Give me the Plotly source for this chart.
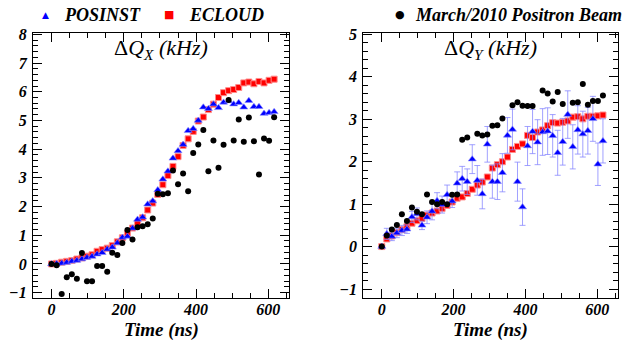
import plotly.graph_objects as go

# Bunch times along the train (ns)
time_ns = [0, 14, 28, 42, 56, 70, 84, 98, 112, 126, 140, 154, 168, 182, 196,
           210, 224, 238, 252, 266, 280, 294, 308, 322, 336, 350, 364, 378,
           392, 406, 420, 434, 448, 462, 476, 490, 504, 518, 532, 546, 560,
           574, 588, 602, 616]

# Horizontal tune shift dQx (kHz)
posinst_x = [0, 0.01, 0.02, 0.05, 0.09, 0.12, 0.17, 0.22, 0.26, 0.34, 0.39,
             0.51, 0.58, 0.73, 0.92, 0.96, 1.24, 1.55, 1.63, 2.08, 2.19, 2.58,
             2.95, 3.23, 3.68, 3.94, 4.16, 4.64, 4.71, 5.00, 5.46, 5.41, 5.57,
             5.44, 5.63, 5.68, 5.57, 5.62, 5.46, 5.69, 5.48, 5.48, 5.24, 5.27,
             5.30]
ecloud_x = [0, 0.02, 0.06, 0.09, 0.12, 0.17, 0.21, 0.27, 0.32, 0.44, 0.50,
            0.55, 0.64, 0.77, 0.91, 1.07, 1.25, 1.41, 1.61, 1.88, 2.12, 2.42,
            2.76, 3.08, 3.40, 3.74, 4.13, 4.36, 4.62, 4.98, 5.12, 5.38, 5.57,
            5.80, 5.97, 6.04, 6.08, 6.15, 6.31, 6.34, 6.28, 6.36, 6.31, 6.40,
            6.44]
beam_x = [0, -0.05, -1.05, -0.46, -0.36, -0.52, 0.38, -0.60, -0.60, -0.07,
          -0.07, -0.27, 0.39, 0.31, 0.73, 1.18, 0.85, 1.28, 1.31, 1.38, 1.58,
          2.45, 2.43, 2.46, 3.26, 2.78, 3.15, 2.53, 3.87, 4.16, 4.67, 3.23,
          4.30, 3.35, 4.15, 5.71, 4.30, 5.03, 4.26, 5.10, 4.28, 3.12, 4.37,
          4.29, 5.11]

# Vertical tune shift dQy (kHz)
posinst_y = [0, 0.30, 0.24, 0.32, 0.38, 0.41, 0.70, 0.77, 0.50, 0.69, 0.83,
             1.08, 0.99, 1.22, 1.07, 1.49, 1.60, 1.53, 2.06, 1.56, 1.24, 2.41,
             1.53, 1.53, 1.74, 2.62, 2.76, 1.53, 0.93, 2.37, 2.71, 2.46, 2.70,
             2.72, 2.61, 2.21, 2.47, 3.11, 2.35, 2.75, 2.65, 2.73, 3.01, 1.94,
             2.49]
posinst_y_err = [0, 0.13, 0.10, 0.11, 0.12, 0.10, 0.13, 0.14, 0.10, 0.15,
                 0.20, 0.19, 0.20, 0.23, 0.15, 0.27, 0.29, 0.30, 0.34, 0.35,
                 0.35, 0.42, 0.39, 0.42, 0.45, 0.42, 0.48, 0.46, 0.43, 0.46,
                 0.52, 0.53, 0.55, 0.55, 0.50, 0.53, 0.55, 0.56, 0.52, 0.57,
                 0.54, 0.55, 0.53, 0.50, 0.52]
ecloud_y = [0, 0.18, 0.25, 0.33, 0.40, 0.47, 0.55, 0.61, 0.66, 0.74, 0.79,
            0.84, 0.90, 0.97, 1.05, 1.14, 1.17, 1.25, 1.35, 1.45, 1.52, 1.64,
            1.85, 1.93, 2.00, 2.11, 2.29, 2.36, 2.42, 2.62, 2.57, 2.70, 2.75,
            2.85, 2.92, 2.91, 2.93, 2.96, 3.05, 3.06, 3.01, 3.07, 3.07, 3.08,
            3.10]
beam_y = [0, 0.26, 0.40, 0.51, 0.76, 0.60, 0.92, 0.82, 0.76, 1.23, 1.05,
          1.00, 1.05, 1.00, 1.22, 1.23, 2.52, 2.57, None, 2.66, 2.62, 2.64,
          2.85, 2.86, 3.02, None, 3.33, 3.40, 3.32, 3.31, 3.31, None, 3.68,
          3.61, 3.42, 3.64, 3.36, None, 3.39, 3.40, 3.83, 3.34, 3.43, 3.43,
          3.56]

x_ticks = [0, 200, 400, 600]
yx_ticks = [-1, 0, 1, 2, 3, 4, 5, 6, 7, 8]
yy_ticks = [-1, 0, 1, 2, 3, 4, 5]

SERIF = "Liberation Serif, Times New Roman, serif"
BLUE = "#0000ff"
RED = "#ff0000"

sq_marker = dict(symbol="square", size=6, color=RED,
                 line=dict(color="#ff8c8c", width=1))
tri_marker = dict(symbol="triangle-up", size=7, color=BLUE,
                  line=dict(color="#8c8cff", width=0.6))
dot_marker = dict(symbol="circle", size=6, color="black")

fig = go.Figure()

# Horizontal panel
fig.add_trace(go.Scatter(x=time_ns, y=ecloud_x, mode="markers", marker=sq_marker,
                         name="ECLOUD", showlegend=False))
fig.add_trace(go.Scatter(x=time_ns, y=posinst_x, mode="markers", marker=tri_marker,
                         name="POSINST", showlegend=False))
fig.add_trace(go.Scatter(x=time_ns, y=beam_x, mode="markers", marker=dot_marker,
                         name="March/2010 Positron Beam", showlegend=False))

# Vertical panel
fig.add_trace(go.Scatter(x=time_ns, y=ecloud_y, mode="markers", marker=sq_marker,
                         name="ECLOUD", xaxis="x2", yaxis="y2", showlegend=False))
fig.add_trace(go.Scatter(x=time_ns, y=posinst_y, mode="markers", marker=tri_marker,
                         error_y=dict(type="data", array=posinst_y_err,
                                      color="rgba(130,130,255,0.75)",
                                      thickness=1, width=3),
                         name="POSINST", xaxis="x2", yaxis="y2", showlegend=False))
fig.add_trace(go.Scatter(x=time_ns, y=beam_y, mode="markers", marker=dot_marker,
                         name="March/2010 Positron Beam", xaxis="x2", yaxis="y2",
                         showlegend=False))

tick_font = dict(family=SERIF, size=16, color="black", weight="bold", style="italic")


def frame_axis(**kw):
    base = dict(showline=True, linecolor="black", linewidth=1, mirror="ticks",
                ticks="inside", ticklen=9, tickwidth=1, tickcolor="black",
                showgrid=False, zeroline=False, tickfont=tick_font)
    base.update(kw)
    return base


def minor_ticks(step):
    return dict(ticks="inside", ticklen=5, dtick=step, tick0=0,
                tickcolor="black", showgrid=False)


x_range = [-51.5, 658]
y_dom = [0.138, 0.924]

fig.update_layout(
    width=628, height=348,
    margin=dict(l=0, r=0, t=0, b=0),
    paper_bgcolor="white", plot_bgcolor="white",
    showlegend=False,
    xaxis=frame_axis(domain=[0.0525, 0.4607], range=x_range, anchor="y",
                     tickvals=x_ticks, ticklabelstandoff=-4, minor=minor_ticks(50)),
    yaxis=frame_axis(domain=y_dom, range=[-1.2, 8.06], anchor="x",
                     tickvals=yx_ticks, ticklabelstandoff=2, minor=minor_ticks(0.2)),
    xaxis2=frame_axis(domain=[0.5785, 0.9841], range=x_range, anchor="y2",
                      tickvals=x_ticks, ticklabelstandoff=-4, minor=minor_ticks(50)),
    yaxis2=frame_axis(domain=y_dom, range=[-1.22, 5.04], anchor="x2",
                      tickvals=yy_ticks, ticklabelstandoff=2, minor=minor_ticks(0.2)),
)

title_font = dict(family=SERIF, size=22, color="black", style="italic")
axis_title_font = dict(family=SERIF, size=19, color="black",
                       weight="bold", style="italic")
key_font = dict(family=SERIF, size=18, color="black", weight="bold", style="italic")

# Panel titles
fig.add_annotation(text="<span style='font-style:normal'>Δ</span>Q<sub>X</sub> (kHz)",
                   xref="x domain", yref="paper", x=0.5, y=1 - 43 / 348,
                   yanchor="middle", showarrow=False, font=title_font)
fig.add_annotation(text="<span style='font-style:normal'>Δ</span>Q<sub>Y</sub> (kHz)",
                   xref="x2 domain", yref="paper", x=0.5, y=1 - 43 / 348,
                   yanchor="middle", showarrow=False, font=title_font)

# Axis titles
for xr in ("x domain", "x2 domain"):
    fig.add_annotation(text="Time (ns)", xref=xr, yref="paper", x=0.5,
                       y=1 - 333 / 348, yanchor="middle", showarrow=False,
                       font=axis_title_font)

# Key along the top edge
key_y = 1 - 8 / 348
key_items = [
    ("▲", BLUE, 9, 45 / 628, "POSINST", 62 / 628),
    ("■", RED, 11, 169 / 628, "ECLOUD", 187 / 628),
    ("●", "black", 11, 400 / 628, "March/2010 Positron Beam", 413 / 628),
]
for sym, col, sz, sx, label, tx in key_items:
    fig.add_annotation(text=sym, xref="paper", yref="paper", x=sx, y=key_y,
                       xanchor="center", yanchor="middle", showarrow=False,
                       font=dict(family="DejaVu Sans", size=sz, color=col))
    fig.add_annotation(text=label, xref="paper", yref="paper", x=tx, y=key_y,
                       xanchor="left", yanchor="middle", showarrow=False,
                       font=key_font)

fig.write_html("out.html")
